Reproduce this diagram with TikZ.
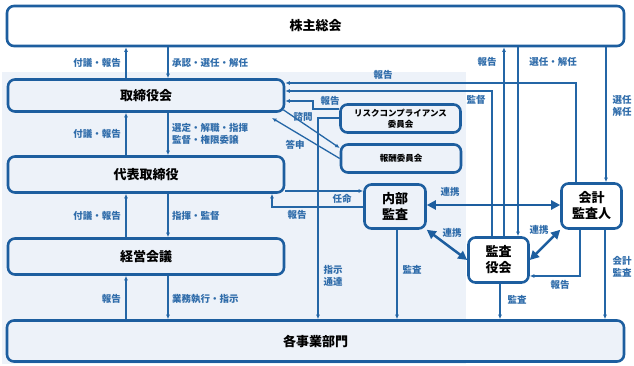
\documentclass[tikz,border=0pt]{standalone}
\usepackage{fontspec}
\setmainfont{Noto Sans CJK JP}
\usetikzlibrary{arrows.meta,calc}
\definecolor{Panel}{HTML}{EDF2F9}
\definecolor{Frame}{HTML}{1D5E9F}
\definecolor{Wire}{HTML}{2466A6}
\definecolor{Note}{HTML}{2F6CAA}
\tikzset{
  orgbox/.style={draw=Frame, line width=2.6pt, rounded corners=7pt,
    font=\bfseries\fontsize{13}{16}\selectfont, text=black, align=center, inner sep=0pt},
  smallbox/.style={orgbox, font=\bfseries\fontsize{8.5}{11}\selectfont},
  wire/.style={draw=Wire, line width=1.3pt},
  tip/.style={wire, -{Latex[length=4.5pt,width=4pt]}},
  duo/.style={draw=Frame, line width=2.5pt,
    {Triangle[length=9pt,width=9pt]}-{Triangle[length=9pt,width=9pt]}},
  note/.style={font=\bfseries\fontsize{9.5}{12}\selectfont, text=Note, align=left, inner sep=0pt},
}

\begin{document}
\begin{tikzpicture}[x=1pt, y=-1pt]
        \useasboundingbox (0,0) rectangle (634,366);
        % panel behind the executive side
        \fill[Panel] (2,72) rectangle (466,364);
        % main boxes
        \node[orgbox, fill=white, minimum width=617pt, minimum height=40pt] (soukai) at (315.5,26) {株主総会};
        \node[orgbox, minimum width=276pt, minimum height=32pt] (torishimari) at (146,95.5) {取締役会};
        \node[orgbox, minimum width=276pt, minimum height=36pt] (daihyo) at (146,174.5) {代表取締役};
        \node[orgbox, minimum width=276pt, minimum height=36pt] (keiei) at (146,256.5) {経営会議};
        \node[orgbox, fill=Panel, minimum width=617pt, minimum height=41pt] (jigyo) at (315.5,341) {各事業部門};
        % committees and audit
        \node[smallbox, minimum width=120pt, minimum height=28pt] (risk) at (400.5,118.5) {リスクコンプライアンス\\委員会};
        \node[smallbox, minimum width=120pt, minimum height=28pt] (hoshu) at (401,158.5) {報酬委員会};
        \node[orgbox, minimum width=61pt, minimum height=44pt] (naibu) at (395,206.5) {内部\\監査};
        \node[orgbox, fill=white, minimum width=60pt, minimum height=45pt] (kansayaku) at (498.5,260) {監査\\役会};
        \node[orgbox, fill=white, minimum width=60pt, minimum height=45pt] (kaikei) at (591.5,206) {会計\\監査人};

        % left column: up / down pairs
        \coordinate (upx) at (126,0);
        \coordinate (dnx) at (168,0);
        \foreach \hi/\lo in {soukai/torishimari, torishimari/daihyo, daihyo/keiei, keiei/jigyo} {
          \draw[tip] (\lo.north -| upx) -- (\hi.south -| upx);
          \draw[tip] (\hi.south -| dnx) -- (\lo.north -| dnx);
        }
        \node[note, anchor=east] (lbUp1) at (121,63) {付議・報告};
        \node[note, anchor=west] (lbDn1) at (172,63) {承認・選任・解任};
        \node[note, anchor=east] (lbUp2) at (121,134) {付議・報告};
        \node[note, anchor=west] (lbDn2) at (172,134) {選定・解職・指揮\\監督・権限委譲};
        \node[note, anchor=east] (lbUp3) at (121,216) {付議・報告};
        \node[note, anchor=west] (lbDn3) at (172,216) {指揮・監督};
        \node[note, anchor=east] (lbUp4) at (121,299) {報告};
        \node[note, anchor=west] (lbDn4) at (172,299) {業務執行・指示};

        % lines into the board
        \coordinate (kkTop) at (576,83);
        \coordinate (ksTop) at (492,91);
        \coordinate (rkA) at (313,109);
        \coordinate (rkB) at (313,101);
        \coordinate (rkC) at (318,118);
        \coordinate (ansEnd) at (272,118);
        \draw[tip] (kaikei.north -| kkTop) |- (torishimari.east |- kkTop);
        \draw[tip] (kansayaku.north -| ksTop) |- (torishimari.east |- ksTop);
        \draw[tip] (risk.west |- rkA) -- (rkA) -- (rkB) -- (torishimari.east |- rkB);
        \draw[tip] (risk.west |- rkC) -- (rkC) -- (jigyo.north -| rkC);
        \draw[tip] ([xshift=-2pt,yshift=3pt]torishimari.south east) -- ([yshift=10.5pt]hoshu.west);
        \draw[tip] (hoshu.west) -- (ansEnd);
        \node[note] (lbRpt1) at (383,75) {報告};
        \node[note] (lbSup) at (476,100) {監督};
        \node[note] (lbRpt2) at (330,101) {報告};
        \node[note] (lbAsk) at (303,117) {諮問};
        \node[note] (lbAns) at (295,145) {答申};
        \node[note] (lbOrd) at (333,276) {指示\\通達};

        % shareholders to auditors
        \coordinate (ksUp) at (504,0);
        \coordinate (ksDn) at (518,0);
        \coordinate (kkDn) at (606,0);
        \draw[tip] (kansayaku.north -| ksUp) -- (soukai.south -| ksUp);
        \draw[tip] (soukai.south -| ksDn) -- (kansayaku.north -| ksDn);
        \draw[tip] (soukai.south -| kkDn) -- (kaikei.north -| kkDn);
        \node[note] (lbRpt3) at (487,62) {報告};
        \node[note] (lbSel1) at (553,62) {選任・解任};
        \node[note] (lbSel2) at (622,106) {選任\\解任};

        % internal audit
        \coordinate (apt) at (0,191);
        \coordinate (nbR) at (272,207);
        \draw[tip] (daihyo.east |- apt) -- (naibu.west |- apt);
        \draw[tip] (naibu.west |- nbR) -- (nbR) -- (daihyo.south -| nbR);
        \node[note] (lbApt) at (342,199) {任命};
        \node[note] (lbRpt4) at (297,215) {報告};

        % audits of the divisions
        \coordinate (nbA) at (397,0);
        \coordinate (ksA) at (500,0);
        \coordinate (kkA) at (605,0);
        \coordinate (kkR) at (580,276);
        \draw[tip] (naibu.south -| nbA) -- (jigyo.north -| nbA);
        \draw[tip] (kansayaku.south -| ksA) -- (jigyo.north -| ksA);
        \draw[tip] (kaikei.south -| kkA) -- (jigyo.north -| kkA);
        \draw[tip] (kaikei.south -| kkR) |- (kansayaku.east |- kkR);
        \node[note] (lbAud1) at (412,270) {監査};
        \node[note] (lbAud2) at (517,300) {監査};
        \node[note] (lbAud3) at (622,267) {会計\\監査};
        \node[note] (lbRpt5) at (560,285) {報告};

        % cooperation
        \coordinate (lk) at (0,205);
        \draw[duo] (naibu.east |- lk) -- (kaikei.west |- lk);
        \draw[duo] (naibu.south east) -- (kansayaku.west);
        \draw[duo] (kansayaku.east) -- (kaikei.south west);
        \node[note] (lbCo1) at (450,192) {連携};
        \node[note] (lbCo2) at (452,233) {連携};
        \node[note] (lbCo3) at (539,230) {連携};
      \end{tikzpicture}
\end{document}
